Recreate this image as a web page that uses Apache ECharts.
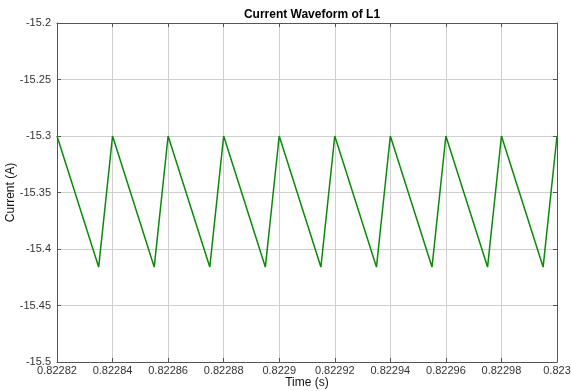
<!DOCTYPE html>
<html>
<head>
<meta charset="utf-8">
<script src="https://cdn.jsdelivr.net/npm/echarts@6/dist/echarts.min.js"></script>
<style>html,body{margin:0;padding:0;background:#fff;}#c{width:571px;height:391px;}</style>
</head>
<body>
<div id="c"></div>
<script>
const titleText = "Current Waveform of L1";
const xLabel = "Time (s)";
const yLabel = "Current (A)";
const timeValues = [0.82282, 0.822835, 0.82284, 0.822855, 0.82286, 0.822875, 0.82288, 0.822895, 0.8229, 0.822915,
  0.82292, 0.822935, 0.82294, 0.822955, 0.82296, 0.822975, 0.82298, 0.822995, 0.823];
const currentValues = [-15.3, -15.416, -15.3, -15.416, -15.3, -15.416, -15.3, -15.416, -15.3, -15.416,
  -15.3, -15.416, -15.3, -15.416, -15.3, -15.416, -15.3, -15.416, -15.3];
const xMin = 0.82282, xMax = 0.823, xStep = 0.00002;
const yMin = -15.5, yMax = -15.2, yStep = 0.05;

const chart = echarts.init(document.getElementById('c'));
const fontFamily = 'Liberation Sans, Arial, Helvetica, sans-serif';
const fmtX = v => String(parseFloat(v.toFixed(5)));
const fmtY = v => String(parseFloat(v.toFixed(2)));
const gridColor = '#cfcfcf';
const frameColor = '#555';
chart.setOption({
  animation: false,
  backgroundColor: '#fff',
  title: {
    text: titleText, left: 307, top: 4, textAlign: 'center',
    textStyle: {fontFamily, fontSize: 12, fontWeight: 'bold', color: '#000'}
  },
  grid: {left: 57, right: 14, top: 23, bottom: 29, containLabel: false, outerBoundsMode: 'none'},
  xAxis: [{
    type: 'value', min: xMin, max: xMax, interval: xStep,
    name: xLabel, nameLocation: 'middle', nameGap: 15, nameMoveOverlap: false,
    nameTextStyle: {fontFamily, fontSize: 12, color: '#111'},
    axisLine: {show: true, lineStyle: {color: frameColor, width: 1}},
    axisTick: {show: true, inside: true, length: 4, lineStyle: {color: frameColor}},
    axisLabel: {formatter: fmtX, fontFamily, fontSize: 11, color: '#333', margin: 3},
    splitLine: {show: true, lineStyle: {color: gridColor, width: 1}}
  }, {
    type: 'value', min: xMin, max: xMax, interval: xStep, position: 'top',
    axisLine: {show: true, onZero: false, lineStyle: {color: frameColor, width: 1}},
    axisTick: {show: true, inside: true, length: 4, lineStyle: {color: frameColor}},
    axisLabel: {show: false}, splitLine: {show: false}
  }],
  yAxis: [{
    type: 'value', min: yMin, max: yMax, interval: yStep,
    name: yLabel, nameLocation: 'middle', nameGap: 40, nameRotate: 90, nameMoveOverlap: false,
    nameTextStyle: {fontFamily, fontSize: 12, color: '#111'},
    axisLine: {show: true, onZero: false, lineStyle: {color: frameColor, width: 1}},
    axisTick: {show: true, inside: true, length: 4, lineStyle: {color: frameColor}},
    axisLabel: {formatter: fmtY, fontFamily, fontSize: 11, color: '#333', margin: 6},
    splitLine: {show: true, lineStyle: {color: gridColor, width: 1}}
  }, {
    type: 'value', min: yMin, max: yMax, interval: yStep, position: 'right',
    axisLine: {show: true, onZero: false, lineStyle: {color: frameColor, width: 1}},
    axisTick: {show: true, inside: true, length: 4, lineStyle: {color: frameColor}},
    axisLabel: {show: false}, splitLine: {show: false}
  }],
  series: [{
    type: 'line',
    data: timeValues.map((t, i) => [t, currentValues[i]]),
    showSymbol: false, symbol: 'none',
    lineStyle: {color: '#0a8a0a', width: 1.5},
    clip: true
  }]
});
</script>
</body>
</html>
